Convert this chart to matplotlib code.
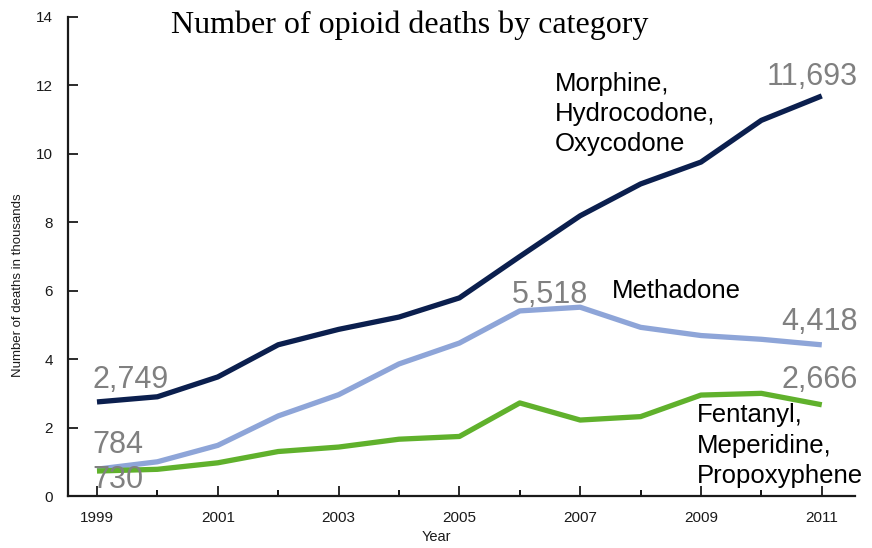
import matplotlib
matplotlib.use("Agg")
import matplotlib.pyplot as plt

years = list(range(1999, 2012))
natural_semisynthetic = [2.749, 2.90, 3.48, 4.42, 4.87, 5.23, 5.79, 7.00, 8.19, 9.12, 9.76, 10.98, 11.693]
methadone = [0.784, 1.00, 1.48, 2.34, 2.96, 3.86, 4.47, 5.41, 5.518, 4.93, 4.69, 4.58, 4.418]
synthetic = [0.730, 0.78, 0.97, 1.30, 1.43, 1.66, 1.74, 2.72, 2.22, 2.32, 2.95, 3.00, 2.666]

x_ticks = [1999, 2001, 2003, 2005, 2007, 2009, 2011]
y_ticks = [0, 2, 4, 6, 8, 10, 12, 14]

navy = "#0b1f4e"
light_blue = "#8ea5d8"
green = "#60b12c"
grey = "#808080"

plt.rcParams["font.family"] = ["Liberation Sans", "DejaVu Sans"]

fig = plt.figure(figsize=(8.72, 5.48), dpi=100)
ax = fig.add_axes([68 / 872, 1 - 496 / 548, (855 - 68) / 872, (496 - 17) / 548])

lw = 3.8
ax.plot(years, natural_semisynthetic, color=navy, lw=lw, solid_capstyle="butt", zorder=3)
ax.plot(years, methadone, color=light_blue, lw=lw, solid_capstyle="butt", zorder=3)
ax.plot(years, synthetic, color=green, lw=lw, solid_capstyle="butt", zorder=3)

ax.set_xlim(1998.52, 2011.55)
ax.set_ylim(0, 14)
ax.set_xticks(x_ticks)
ax.set_xticks(years, minor=True)
ax.set_yticks(y_ticks)
ax.tick_params(axis="both", which="major", direction="in", length=7, width=1.3,
               labelsize=11, colors="#1a1a1a")
ax.tick_params(axis="x", which="major", pad=11)
ax.tick_params(axis="y", which="major", pad=11)
ax.tick_params(axis="x", which="minor", direction="in", length=4.5, width=1.3)
for side in ("top", "right"):
    ax.spines[side].set_visible(False)
for side in ("left", "bottom"):
    ax.spines[side].set_linewidth(1.6)
    ax.spines[side].set_color("#1a1a1a")

# value callouts (thousands -> comma-formatted counts)
def fmt(v):
    return f"{round(v * 1000):,}"

num_size = 22
ax.text(1998.92, 3.16, fmt(natural_semisynthetic[0]), color=grey, fontsize=num_size, ha="left", va="baseline", zorder=4)
ax.text(1998.92, 1.26, fmt(methadone[0]), color=grey, fontsize=num_size, ha="left", va="baseline", zorder=4)
ax.text(1998.92, 0.23, fmt(synthetic[0]), color=grey, fontsize=num_size, ha="left", va="baseline", zorder=4)
ax.text(2011.6, 12.0, fmt(natural_semisynthetic[-1]), color=grey, fontsize=num_size, ha="right", va="baseline", zorder=4)
ax.text(2005.87, 5.64, fmt(methadone[8]), color=grey, fontsize=num_size, ha="left", va="baseline", zorder=4)
ax.text(2011.6, 4.85, fmt(methadone[-1]), color=grey, fontsize=num_size, ha="right", va="baseline", zorder=4)
ax.text(2011.6, 3.16, fmt(synthetic[-1]), color=grey, fontsize=num_size, ha="right", va="baseline", zorder=4)

# category names
cat_size = 18.5
ax.text(2006.58, 12.40, "Morphine,\nHydrocodone,\nOxycodone", color="black", fontsize=cat_size,
        ha="left", va="top", linespacing=1.33, zorder=5)
ax.text(2007.53, 5.79, "Methadone", color="black", fontsize=cat_size, ha="left", va="baseline", zorder=5)
ax.text(2008.93, 2.71, "Fentanyl,\nMeperidine,\nPropoxyphene", color="black", fontsize=cat_size,
        ha="left", va="top", linespacing=1.33, zorder=5)

fig.text(410 / 872, 1 - 33 / 548, "Number of opioid deaths by category", family=["Liberation Serif", "DejaVu Serif"],
         fontsize=23, ha="center", va="baseline", color="black")
fig.text(18 / 872, 1 - 285 / 548, "Number of deaths in thousands", rotation=90, fontsize=9.5,
         ha="center", va="center", color="#1a1a1a")
fig.text(436 / 872, 1 - 537 / 548, "Year", fontsize=10.5, ha="center", va="center", color="#1a1a1a")

fig.savefig("out.png", dpi=100)
